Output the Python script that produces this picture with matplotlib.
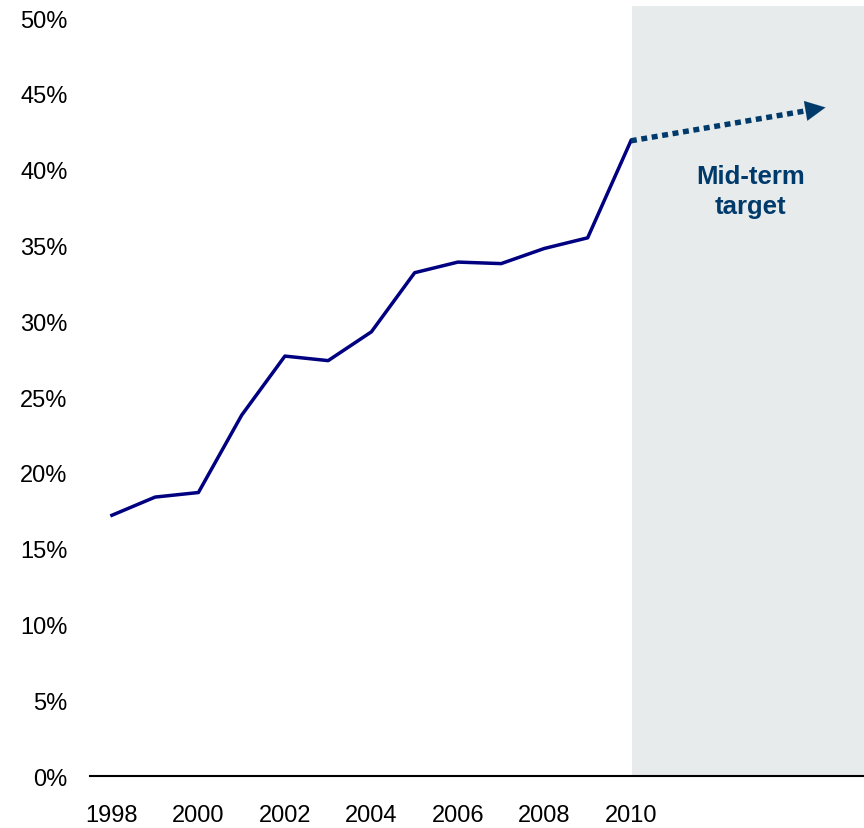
import matplotlib
matplotlib.use('Agg')
import matplotlib.pyplot as plt

# Dados da série histórica
anos = [1998, 1999, 2000, 2001, 2002, 2003, 2004, 2005, 2006, 2007, 2008, 2009, 2010]
valores = [17.2, 18.4, 18.7, 23.8, 27.7, 27.4, 29.3, 33.2, 33.9, 33.8, 34.8, 35.5, 41.9]

# Meta de médio prazo (seta)
meta_anos = [2010, 2014.5]
meta_valores = [41.9, 44.1]

anos_ticks = [1998, 2000, 2002, 2004, 2006, 2008, 2010]
y_ticks = [0, 5, 10, 15, 20, 25, 30, 35, 40, 45, 50]

plt.rcParams['font.family'] = ['Liberation Sans', 'DejaVu Sans']

fig = plt.figure(figsize=(8.64, 8.29), dpi=100)
ax = fig.add_axes([0.104, 0.0627, 0.896, 0.929])

ax.set_xlim(1997.49, 2015.39)
ax.set_ylim(0, 50.8)

# Área sombreada
ax.axvspan(2010.02, 2015.39, color='#E7EBEC', zorder=0, lw=0)

# Linha principal
ax.plot(anos, valores, color='#000080', lw=2.5, zorder=3)

# Seta pontilhada
ax.plot([meta_anos[0], meta_anos[1] - 0.3],
        [meta_valores[0], meta_valores[1] - 0.147],
        color='#003A6B', lw=3.9, linestyle=(0, (1.1, 0.85)), solid_capstyle='butt', zorder=3)
ax.annotate('', xy=(meta_anos[1], meta_valores[1]),
            xytext=(meta_anos[1] - 0.36, meta_valores[1] - 0.176),
            arrowprops=dict(arrowstyle='-|>', color='#003A6B', lw=0.1, mutation_scale=36,
                            shrinkA=0, shrinkB=0), zorder=4)

ax.text(2012.77, 38.6, 'Mid-term\ntarget', ha='center', va='center', fontsize=18.5,
        fontweight='bold', color='#003A6B', linespacing=1.3)

# Eixos
for lado in ['left', 'right', 'top']:
    ax.spines[lado].set_visible(False)
ax.spines['bottom'].set_linewidth(1.5)
ax.spines['bottom'].set_color('black')

ax.set_yticks(y_ticks)
ax.set_yticklabels([f'{v}%' for v in y_ticks])
ax.set_xticks(anos_ticks)
ax.set_xticklabels([str(a) for a in anos_ticks])
ax.tick_params(axis='y', length=0, pad=16, labelsize=17)
ax.tick_params(axis='x', length=0, pad=20, labelsize=17)

fig.savefig('out.png', dpi=100)
